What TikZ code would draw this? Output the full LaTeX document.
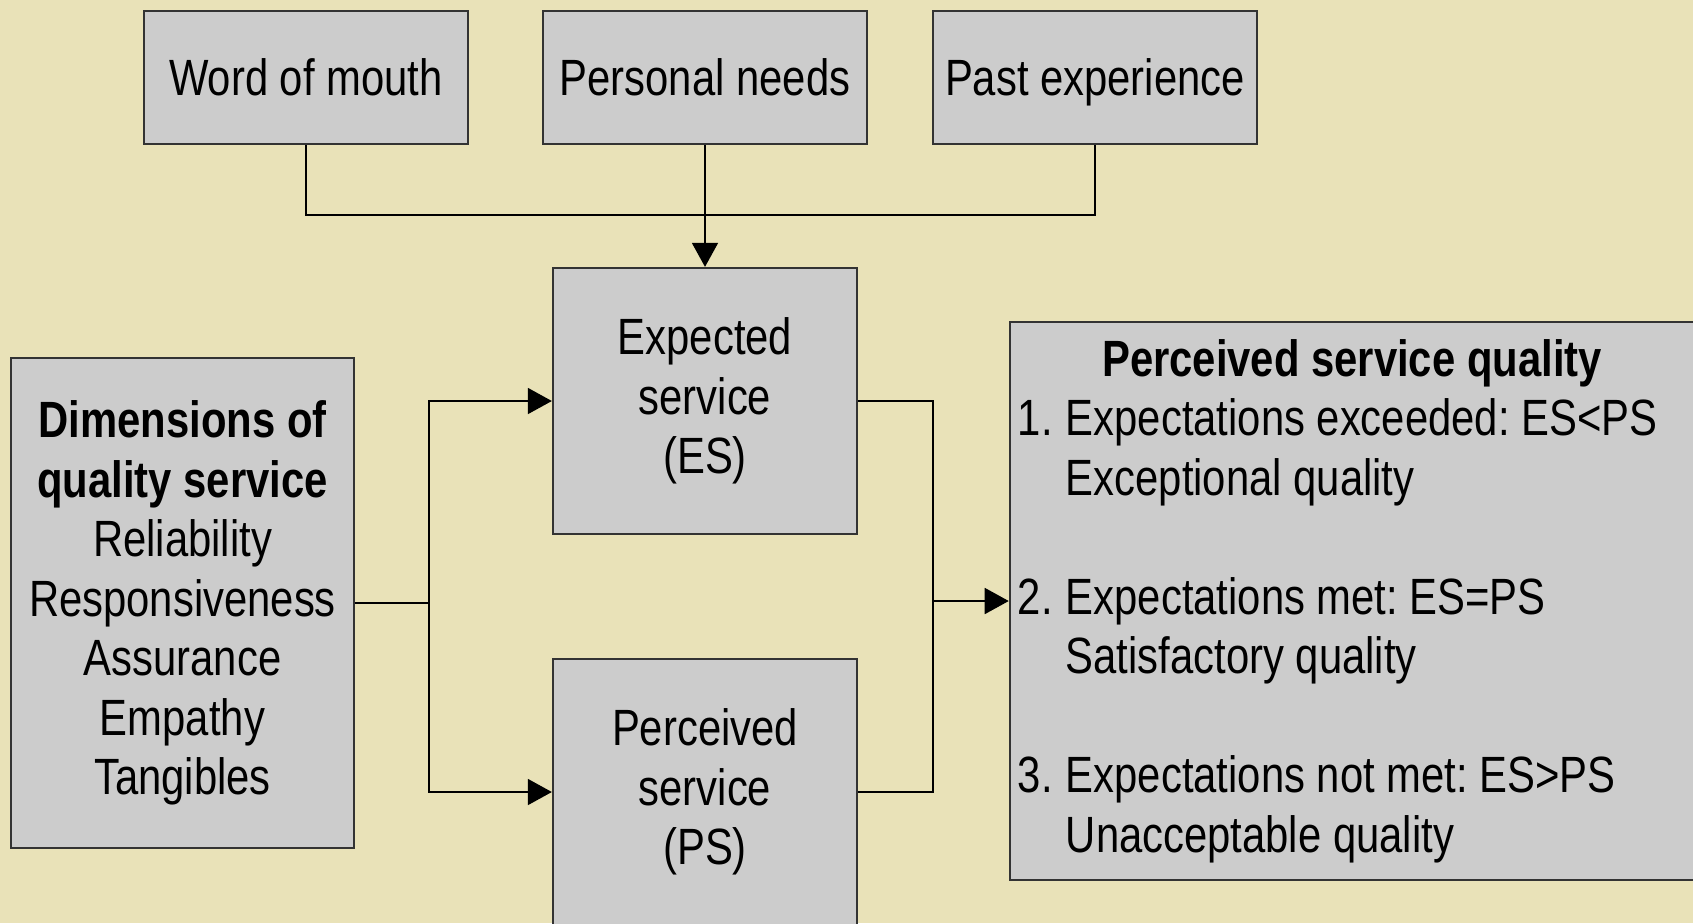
\documentclass[tikz,border=0pt]{standalone}
\usepackage{fontspec}
\setmainfont{Liberation Sans}[FakeStretch=0.82]
\usetikzlibrary{positioning,arrows.meta,calc}
\frenchspacing

\definecolor{bgtan}{RGB}{233,226,184}
\definecolor{boxgray}{RGB}{204,204,204}
\newcommand{\boxfont}{\fontsize{14.5pt}{16.93pt}\selectfont}

\begin{document}
\begin{tikzpicture}[
  x=0.01cm, y=-0.01cm,
  >={Triangle[length=0.24cm,width=0.26cm]},
  link/.style={draw=black, line width=0.45pt},
  greybox/.style={draw=black!80, fill=boxgray, line width=0.6pt,
                  inner sep=0pt, font=\boxfont, align=center},
  sourcebox/.style={greybox, minimum width=3.23cm, minimum height=1.33cm,
                    text height=0.365cm, text depth=0cm},
  servicebox/.style={greybox, minimum width=3.04cm, minimum height=2.66cm}]

% ============ Background and frame ============
\useasboundingbox (0,0) rectangle (1693,923);
\fill[bgtan] (0,0) rectangle (1693,923);
\clip (0,0) rectangle (1693,923);

% ============ Top row: sources of expectation ============
\node[sourcebox] (wom) at (306,77.5)  {Word of mouth};
\node[sourcebox] (pn)  at (705,77.5)  {Personal needs};
\node[sourcebox] (pe)  at (1095,77.5) {Past experience};

% ============ Middle column: expected and perceived service ============
\node[servicebox] (es) at (705,401) {Expected\\service\\(ES)};
\node[servicebox] (ps) at (705,792) {Perceived\\service\\(PS)};

% ============ Left: dimensions ============
\node[greybox, minimum width=3.43cm, minimum height=4.9cm] (dim) at (182.5,603)
  {\textbf{Dimensions of}\\\textbf{quality service}\\Reliability\\Responsiveness\\
   Assurance\\Empathy\\Tangibles};

% ============ Right: outcome ============
\node[greybox, align=none, text width=6.68cm, inner xsep=0.08cm,
      minimum height=5.57cm] (psq) at (1352,601)
  {\parindent=0pt
   {\centering\bfseries Perceived service quality\par}
   \makebox[0.48cm][l]{1.}Expectations exceeded: ES<PS\par
   \hspace*{0.48cm}Exceptional quality\par
   \mbox{}\par
   \makebox[0.48cm][l]{2.}Expectations met: ES=PS\par
   \hspace*{0.48cm}Satisfactory quality\par
   \mbox{}\par
   \makebox[0.48cm][l]{3.}Expectations not met: ES>PS\par
   \hspace*{0.48cm}Unacceptable quality\par};

% ============ Connectors ============
\coordinate (topjoin) at (705,215);
\coordinate (lsplit)  at (429,603);
\coordinate (rjoin)   at (933,601);
% sources merge into expected service
\draw[link] (wom.south) |- (topjoin) -| (pe.south);
\draw[link,->] (pn.south) -- (es.north);
% dimensions feed both services
\draw[link] (dim.east) -- (lsplit);
\draw[link,->] (lsplit) |- (es.west);
\draw[link,->] (lsplit) |- (ps.west);
% comparison gives perceived quality
\draw[link] (es.east) -| (rjoin);
\draw[link] (ps.east) -| (rjoin);
\draw[link,->] (rjoin) -- (psq.west);

\end{tikzpicture}
\end{document}
